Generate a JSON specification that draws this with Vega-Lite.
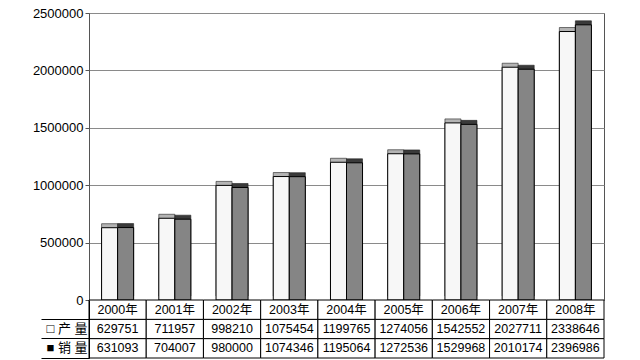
{
  "$schema": "https://vega.github.io/schema/vega-lite/v6.json",
  "padding": {"left": 10, "top": 6, "right": 30, "bottom": 2},
  "background": "white",
  "config": {"font": "Liberation Sans, Noto Sans CJK SC", "view": {"stroke": null}},
  "datasets": {
    "d": [
      {"year": "2000年", "series": "产量", "value": 629751},
      {"year": "2000年", "series": "销量", "value": 631093},
      {"year": "2001年", "series": "产量", "value": 711957},
      {"year": "2001年", "series": "销量", "value": 704007},
      {"year": "2002年", "series": "产量", "value": 998210},
      {"year": "2002年", "series": "销量", "value": 980000},
      {"year": "2003年", "series": "产量", "value": 1075454},
      {"year": "2003年", "series": "销量", "value": 1074346},
      {"year": "2004年", "series": "产量", "value": 1199765},
      {"year": "2004年", "series": "销量", "value": 1195064},
      {"year": "2005年", "series": "产量", "value": 1274056},
      {"year": "2005年", "series": "销量", "value": 1272536},
      {"year": "2006年", "series": "产量", "value": 1542552},
      {"year": "2006年", "series": "销量", "value": 1529968},
      {"year": "2007年", "series": "产量", "value": 2027711},
      {"year": "2007年", "series": "销量", "value": 2010174},
      {"year": "2008年", "series": "产量", "value": 2338646},
      {"year": "2008年", "series": "销量", "value": 2396986}
    ]
  },
  "spacing": 0,
  "bounds": "flush",
  "resolve": {"scale": {"x": "independent", "y": "independent"}},
  "vconcat": [
    {
      "width": 515,
      "height": 287,
      "data": {"name": "d"},
      "view": {"stroke": "#555"},
      "encoding": {
        "x": {"field": "year", "type": "nominal", "sort": null, "scale": {"paddingInner": 0.44, "paddingOuter": 0.22}, "axis": null},
        "xOffset": {"field": "series", "type": "nominal", "sort": ["产量", "销量"]},
        "y": {
          "field": "value", "type": "quantitative",
          "scale": {"domain": [0, 2500000]},
          "axis": {
            "values": [0, 500000, 1000000, 1500000, 2000000, 2500000],
            "format": "d", "title": null,
            "labelFontSize": 13, "labelColor": "#000",
            "tickSize": 4, "tickColor": "#555", "domainColor": "#555",
            "grid": true, "gridColor": "#8a8a8a",
            "labelPadding": 2, "minExtent": 78, "maxExtent": 78, "labelFlush": false
          }
        }
      },
      "layer": [
        {
          "mark": {"type": "bar", "xOffset": 9.5, "yOffset": -4, "y2Offset": -4, "stroke": "#222", "strokeWidth": 0.6},
          "encoding": {"fill": {"condition": {"test": "datum.series == '产量'", "value": "#b4b4b4"}, "value": "#3a3a3a"}}
        },
        {
          "mark": {"type": "bar", "xOffset": 4.5, "stroke": "#000", "strokeWidth": 1},
          "encoding": {"fill": {"condition": {"test": "datum.series == '产量'", "value": "#f7f7f7"}, "value": "#858585"}}
        }
      ]
    },
    {
      "width": 515,
      "height": 58,
      "data": {"name": "d"},
      "encoding": {
        "x": {"field": "year", "type": "nominal", "sort": null, "scale": {"paddingInner": 0, "paddingOuter": 0}, "axis": null}
      },
      "layer": [
        {
          "mark": {"type": "rect", "fill": "white", "stroke": "black", "strokeWidth": 1},
          "encoding": {
            "y": {
              "field": "series", "type": "nominal",
              "scale": {"domain": ["年份", "产量", "销量"]},
              "axis": {
                "title": null,
                "labelExpr": "datum.value == '年份' ? '' : (datum.value == '产量' ? '□ 产 量' : '■ 销 量')",
                "labelFontSize": 13, "labelColor": "#000",
                "bandPosition": 1,
                "tickSize": 48, "tickColor": "#000",
                "domainColor": "#000",
                "labelPadding": -46, "minExtent": 78, "maxExtent": 78
              }
            }
          }
        },
        {
          "transform": [{"filter": "datum.series == '产量'"}],
          "mark": {"type": "rect", "fill": "white", "stroke": "black", "strokeWidth": 1},
          "encoding": {"y": {"datum": "年份", "type": "nominal"}}
        },
        {
          "mark": {"type": "text", "fontSize": 12.5, "color": "#000"},
          "encoding": {
            "y": {"field": "series", "type": "nominal"},
            "text": {"field": "value", "type": "quantitative", "format": "d"}
          }
        },
        {
          "transform": [{"filter": "datum.series == '产量'"}],
          "mark": {"type": "text", "fontSize": 12.5, "color": "#000"},
          "encoding": {
            "y": {"datum": "年份", "type": "nominal"},
            "text": {"field": "year", "type": "nominal"}
          }
        }
      ]
    }
  ]
}
